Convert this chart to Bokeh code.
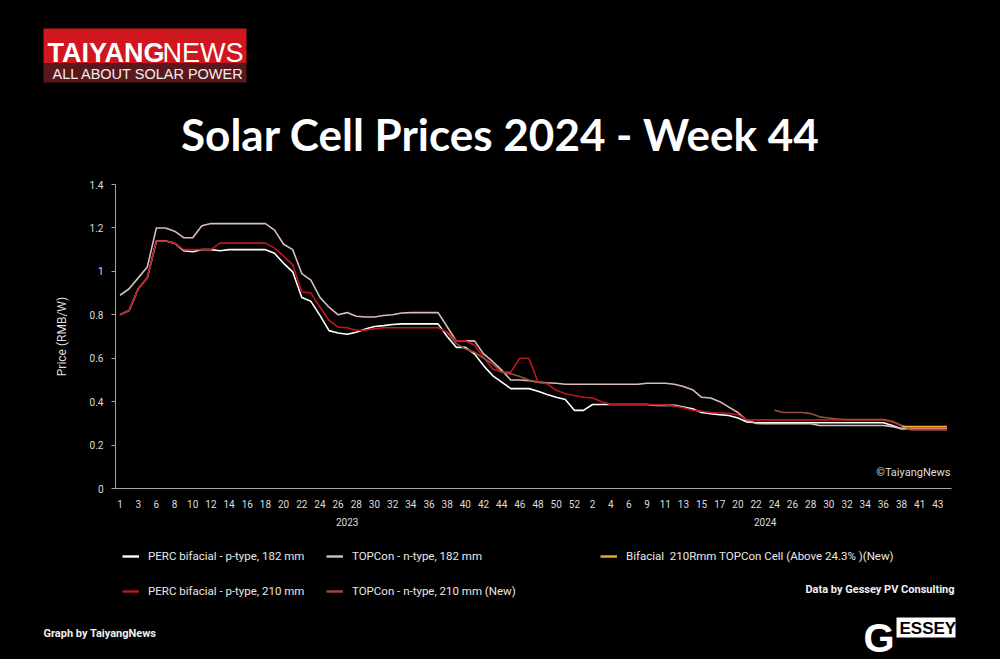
import numpy as np
from bokeh.plotting import figure
from bokeh.layouts import column
from bokeh.models import (Range1d, LinearAxis, FixedTicker, Label, BoxAnnotation,
                          Legend, LegendItem, NumeralTickFormatter)
from bokeh.embed import file_html
from bokeh.resources import INLINE

# ---------------- data ----------------
TITLE = "Solar Cell Prices 2024 - Week 44"
YEARS = ["2023", "2024"]
WEEKS_2023 = ["1", "2", "3", "5", "6", "7", "8", "9", "10", "11", "12", "13", "14", "15",
              "16", "17", "18", "19", "20", "21", "22", "23", "24", "25", "26", "27", "28",
              "29", "30", "31", "32", "33", "34", "35", "36", "37", "38", "39", "40", "41",
              "42", "43", "44", "45", "46", "47", "48", "49", "50", "51", "52"]
WEEKS_2024 = ["1", "2", "3", "4", "5", "6", "8", "9", "10", "11", "12", "13", "14", "15",
              "16", "17", "19", "20", "21", "22", "23", "24", "25", "26", "27", "28", "29",
              "30", "31", "32", "33", "34", "35", "36", "37", "38", "39", "41", "42", "43", "44"]
Y_TICKS = [0, 0.2, 0.4, 0.6, 0.8, 1.0, 1.2, 1.4]

PERC_182 = [
    0.80, 0.82, 0.92, 0.97, 1.14, 1.14, 1.13, 1.095, 1.09, 1.10,
    1.10, 1.095, 1.10, 1.10, 1.10, 1.10, 1.10, 1.083, 1.037, 0.998,
    0.88, 0.862, 0.797, 0.727, 0.716, 0.71, 0.72, 0.735, 0.746, 0.75,
    0.755, 0.758, 0.758, 0.758, 0.758, 0.758, 0.70, 0.65, 0.65, 0.62,
    0.566, 0.52, 0.49, 0.46, 0.46, 0.46, 0.448, 0.433, 0.42, 0.41,
    0.36,
    0.36, 0.387, 0.387, 0.387, 0.387, 0.387, 0.387, 0.387, 0.383, 0.383,
    0.383, 0.375, 0.367, 0.35, 0.344, 0.34, 0.336, 0.325, 0.306, 0.303,
    0.303, 0.303, 0.303, 0.303, 0.303, 0.303, 0.303, 0.303, 0.303, 0.303,
    0.303, 0.303, 0.303, 0.303, 0.29, 0.275, 0.275, 0.275, 0.275, 0.275,
    0.275]

PERC_210 = [
    0.80, 0.82, 0.92, 0.97, 1.14, 1.14, 1.13, 1.10, 1.10, 1.10,
    1.10, 1.13, 1.13, 1.13, 1.13, 1.13, 1.13, 1.107, 1.07, 1.03,
    0.905, 0.90, 0.836, 0.774, 0.743, 0.74, 0.728, 0.73, 0.735, 0.74,
    0.74, 0.74, 0.74, 0.74, 0.74, 0.74, 0.72, 0.68, 0.68, 0.66,
    0.605, 0.55, 0.536, 0.536, 0.60, 0.60, 0.49, 0.482, 0.452, 0.436,
    0.428,
    0.42, 0.417, 0.40, 0.387, 0.387, 0.387, 0.387, 0.387, 0.385, 0.385,
    0.38, 0.372, 0.36, 0.356, 0.35, 0.348, 0.346, 0.34, 0.316, 0.316,
    0.316, 0.316, 0.316, 0.316, 0.316, 0.316, 0.316, 0.316, 0.316, 0.316,
    0.316, 0.316, 0.316, 0.316, 0.306, 0.29, 0.28, 0.28, 0.28, 0.28,
    0.28]

TOPCON_182 = [
    0.89, 0.92, 0.97, 1.02, 1.20, 1.20, 1.185, 1.155, 1.155, 1.21,
    1.22, 1.22, 1.22, 1.22, 1.22, 1.22, 1.22, 1.19, 1.125, 1.10,
    0.99, 0.96, 0.88, 0.835, 0.80, 0.81, 0.793, 0.79, 0.79, 0.797,
    0.80, 0.808, 0.81, 0.81, 0.81, 0.81, 0.745, 0.68, 0.68, 0.68,
    0.62, 0.585, 0.545, 0.50, 0.50, 0.497, 0.49, 0.487, 0.485, 0.48,
    0.48,
    0.48, 0.48, 0.48, 0.48, 0.48, 0.48, 0.48, 0.485, 0.485, 0.485,
    0.48, 0.47, 0.455, 0.42, 0.417, 0.40, 0.375, 0.35, 0.313, 0.30,
    0.298, 0.298, 0.298, 0.298, 0.298, 0.298, 0.29, 0.29, 0.29, 0.29,
    0.29, 0.29, 0.29, 0.29, 0.285, 0.275, 0.28, 0.28, 0.28, 0.28,
    0.28]

TOPCON_210 = [
    None, None, None, None, None, None, None, None, None, None,
    None, None, None, None, None, None, None, None, None, None,
    None, None, None, None, None, None, None, None, None, None,
    None, None, None, None, None, None, 0.72, 0.667, 0.643, 0.628,
    0.60, 0.574, 0.536, 0.528, 0.516, 0.50, 0.49, 0.485, None, None,
    None,
    None, None, None, None, None, None, None, None, None, None,
    None, None, None, None, None, None, None, None, None, None,
    None, 0.36, 0.35, 0.35, 0.35, 0.345, 0.33, 0.325, 0.32, 0.318,
    0.318, 0.318, 0.318, 0.318, 0.31, 0.29, 0.27, 0.27, 0.27, 0.27,
    0.27]

BIFACIAL_210R = [
    None, None, None, None, None, None, None, None, None, None,
    None, None, None, None, None, None, None, None, None, None,
    None, None, None, None, None, None, None, None, None, None,
    None, None, None, None, None, None, None, None, None, None,
    None, None, None, None, None, None, None, None, None, None,
    None,
    None, None, None, None, None, None, None, None, None, None,
    None, None, None, None, None, None, None, None, None, None,
    None, None, None, None, None, None, None, None, None, None,
    None, None, None, None, None, 0.285, 0.285, 0.285, 0.285, 0.285,
    0.285]

SERIES = [
    ("PERC bifacial - p-type, 182 mm", PERC_182, "#ffffff"),
    ("TOPCon - n-type, 182 mm", TOPCON_182, "#d9bcbc"),
    ("PERC bifacial - p-type, 210 mm", PERC_210, "#c3141e"),
    ("TOPCon - n-type, 210 mm (New)", TOPCON_210, "#9a4f36"),
    ("Bifacial  210Rmm TOPCon Cell (Above 24.3% )(New)", BIFACIAL_210R, "#f0b023"),
]

CATS = WEEKS_2023 + WEEKS_2024
N = len(CATS)
XS = list(range(N))

TXT = "#dedede"
AX = "#a6a6a6"
SMALL_FONT = "Roboto"
W = 1000
H_HDR, H_CHART, H_FTR = 172, 373, 114
BLACK_CSS = {"background-color": "black"}


def base_fig(h, x_range, y_range, **kw):
    return figure(width=W, height=h, x_range=x_range, y_range=y_range,
                  output_backend="svg", toolbar_location=None,
                  background_fill_color="black", border_fill_color="black",
                  outline_line_color=None, styles=BLACK_CSS, **kw)


def box(fig, x0, y0, x1, y1, color):
    fig.add_layout(BoxAnnotation(left=x0, right=x1, top=y0, bottom=y1,
                                 fill_color=color, fill_alpha=1, line_color=None))


def text(fig, x, y, s, size, color="#ffffff", font="Roboto", style="normal", align="left",
         baseline="middle"):
    fig.add_layout(Label(x=x, y=y, text=s, text_font=font, text_font_size=size,
                         text_font_style=style, text_color=color, text_align=align,
                         text_baseline=baseline))


# ---------------- header (page y 0..172) ----------------
hdr = base_fig(H_HDR, Range1d(0, W), Range1d(H_HDR, 0), x_axis_type=None, y_axis_type=None,
               min_border=0, frame_align=False)
hdr.grid.visible = False
box(hdr, 43, 28, 246, 63, "#d0161e")
box(hdr, 43, 63, 246, 82, "#5a181c")
text(hdr, 47, 52, "TAIYANG", "27px", font="Liberation Sans", style="bold", baseline="alphabetic")
text(hdr, 162, 52, "NEWS", "27px", font="Liberation Sans", baseline="alphabetic")
text(hdr, 52, 73, "ALL ABOUT SOLAR POWER", "14.5px", color="#eeeeee", font="Liberation Sans")
text(hdr, 500, 133, TITLE, "44px", font="Lato", style="bold", align="center")

# ---------------- chart (page y 172..545) ----------------
p = base_fig(H_CHART, Range1d(-0.5, N - 0.5), Range1d(0, 1.4),
             min_border_left=115, min_border_right=49, min_border_top=184 - H_HDR,
             min_border_bottom=H_HDR + H_CHART - 488, frame_align=False)
p.grid.visible = False

ya = p.yaxis[0]
ya.ticker = FixedTicker(ticks=Y_TICKS)
ya.formatter = NumeralTickFormatter(format="0.[0]")
ya.axis_line_color = AX
ya.major_tick_line_color = AX
ya.major_tick_out = 4
ya.major_tick_in = 0
ya.minor_tick_line_color = None
ya.major_label_text_color = TXT
ya.major_label_text_font = SMALL_FONT
ya.major_label_text_font_size = "10px"
ya.major_label_standoff = 8
ya.axis_label = "Price (RMB/W)"
ya.axis_label_text_color = TXT
ya.axis_label_text_font = SMALL_FONT
ya.axis_label_text_font_size = "12px"
ya.axis_label_text_font_style = "normal"
ya.axis_label_standoff = 18

xa = p.xaxis[0]
tick_idx = XS[::2]
xa.ticker = FixedTicker(ticks=tick_idx)
xa.major_label_overrides = {i: CATS[i] for i in tick_idx}
xa.axis_line_color = AX
xa.major_tick_line_color = None
xa.minor_tick_line_color = None
xa.major_label_text_color = TXT
xa.major_label_text_font = SMALL_FONT
xa.major_label_text_font_size = "10px"
xa.major_label_standoff = 5

n23 = len(WEEKS_2023)
centers = [(0 + n23 - 1) / 2, (n23 + N - 1) / 2]
year_axis = LinearAxis(ticker=FixedTicker(ticks=centers),
                       major_label_overrides={centers[0]: YEARS[0], centers[1]: YEARS[1]},
                       axis_line_color=None, major_tick_line_color=None,
                       minor_tick_line_color=None, major_label_text_color=TXT,
                       major_label_text_font=SMALL_FONT, major_label_text_font_size="10px",
                       major_label_standoff=1)
p.add_layout(year_axis, "below")

for name, vals, color in SERIES:
    p.line(XS, np.array(vals, dtype=float), line_color=color, line_width=1.6)

p.add_layout(Label(x=950, y=472 - H_HDR, x_units="canvas", y_units="canvas",
                   text="\u00a9TaiyangNews", text_font=SMALL_FONT, text_font_size="11px",
                   text_color=TXT, text_align="right", text_baseline="middle"))

# ---------------- footer (page y 545..659) ----------------
Y0 = H_HDR + H_CHART
ftr = base_fig(H_FTR, Range1d(0, W), Range1d(Y0 + H_FTR, Y0), x_axis_type=None,
               y_axis_type=None, min_border=0, frame_align=False)
ftr.grid.visible = False

legend_renderers = {}
for name, vals, color in SERIES:
    r = ftr.line(XS, np.array(vals, dtype=float), line_color=color, line_width=2.4,
                 visible=False)
    legend_renderers[name] = r


def make_legend(names, loc):
    lg = Legend(items=[LegendItem(label=nm, renderers=[legend_renderers[nm]]) for nm in names],
                location=loc, orientation="vertical", click_policy="none",
                background_fill_alpha=0, border_line_color=None, padding=0, margin=0,
                spacing=19, glyph_width=17, glyph_height=16, label_height=16,
                label_standoff=9, label_text_color="#e8e8e8", label_text_font=SMALL_FONT,
                label_text_font_size="11.5px", inactive_fill_alpha=0)
    ftr.add_layout(lg)


names = [s[0] for s in SERIES]
FB = Y0 + H_FTR
make_legend([names[0], names[2]], (122, FB - 599))
make_legend([names[1], names[3]], (326, FB - 599))
make_legend([names[4]], (600, FB - 564))

text(ftr, 43, 633, "Graph by TaiyangNews", "11px", style="bold", color="#f0f0f0")
text(ftr, 954, 589, "Data by Gessey PV Consulting", "11px", style="bold", color="#f0f0f0",
     align="right")
box(ftr, 896, 617, 955, 637, "#ffffff")
text(ftr, 899, 627.5, "ESSEY", "17px", color="#000000", font="Liberation Sans", style="bold")
text(ftr, 863, 637, "G", "40px", color="#ffffff", font="Liberation Sans", style="bold",
     baseline="alphabetic")

layout = column(hdr, p, ftr, spacing=0, styles=BLACK_CSS)
open("out.html", "w").write(file_html(layout, INLINE))
